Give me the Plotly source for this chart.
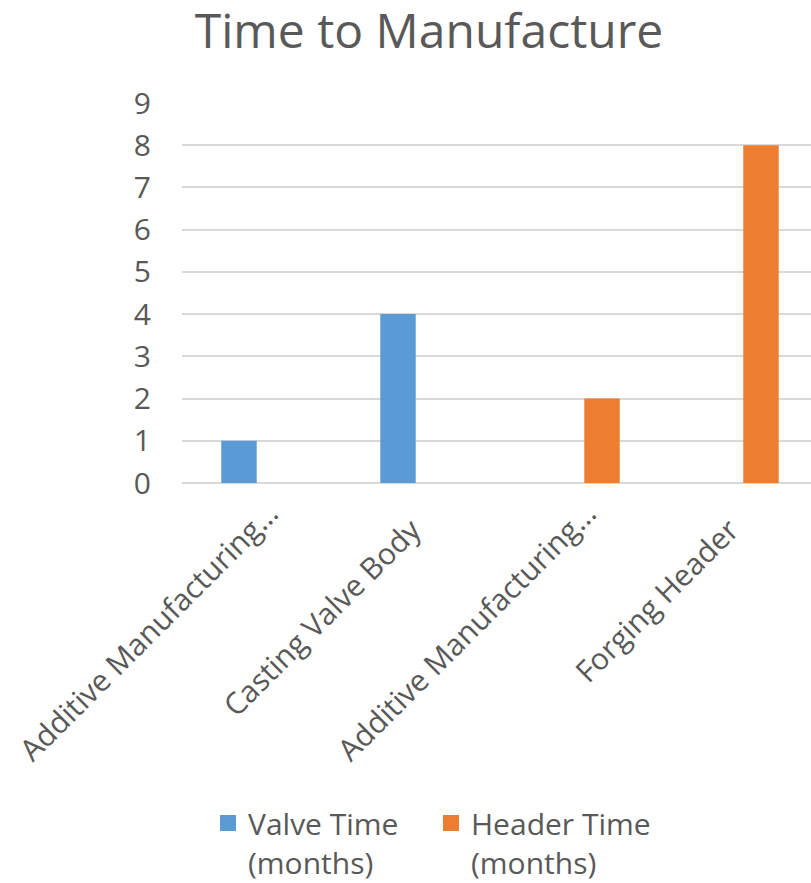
import plotly.graph_objects as go

# Chart data
categories = ["Additive Manufacturing…", "Casting Valve Body",
              "Additive Manufacturing…", "Forging Header"]
valve_months = [1, 4, None, None]
header_months = [None, None, 2, 8]
y_ticks = list(range(0, 10))
series_names = ["Valve Time<br>(months)", "Header Time<br>(months)"]
series_colors = ["#5B9BD5", "#ED7D31"]

TEXT = "#595959"
GRID = "#D9D9D9"
FONT = "'Open Sans', sans-serif"
FS = 30

positions = list(range(len(categories)))
bar_w = 0.223
gap_half = 0.1415

# full (untruncated) labels sit a little further from the axis end
tick_text = [c if c.endswith("…") else c + "\u00a0" * 3 for c in categories]

fig = go.Figure()
for vals, color, shift in [(valve_months, series_colors[0], -gap_half),
                           (header_months, series_colors[1], gap_half)]:
    fig.add_trace(go.Bar(
        x=positions, y=vals, showlegend=False,
        marker=dict(color=color, line=dict(width=0)),
        width=bar_w, offset=shift - bar_w / 2,
    ))

# legend keys with larger square swatches
for name, color in zip(series_names, series_colors):
    fig.add_trace(go.Scatter(
        x=[None], y=[None], mode="markers", name=name,
        marker=dict(symbol="square", size=20, color=color),
    ))

fig.update_layout(
    width=811, height=883,
    paper_bgcolor="white", plot_bgcolor="white",
    barmode="overlay",
    margin=dict(l=182, r=0, t=103, b=400),
    font=dict(family=FONT, color=TEXT, size=FS),
    title=dict(text="Time to Manufacture", x=429 / 811, xanchor="center",
               y=1 - 14 / 883, yanchor="top", yref="container",
               font=dict(size=48, color=TEXT, family=FONT)),
    showlegend=True,
    legend=dict(orientation="h", x=(208 - 182) / 629, xanchor="left",
                y=1 - 797 / 883, yanchor="top", yref="container",
                valign="top", font=dict(size=FS, color=TEXT),
                itemsizing="trace", entrywidth=178, tracegroupgap=0),
    xaxis=dict(range=[-0.5, 3.456], tickmode="array", tickvals=positions,
               ticktext=tick_text, tickangle=-45, showgrid=False,
               showline=False, zeroline=False, ticks="",
               ticklabelstandoff=6, ticklabelshift=8,
               ticklabeloverflow="allow", automargin=False,
               tickfont=dict(size=FS, color=TEXT)),
    yaxis=dict(range=[0, 9], tickmode="array", tickvals=y_ticks,
               showgrid=True, gridcolor=GRID, gridwidth=1.5,
               zeroline=True, zerolinecolor=GRID, zerolinewidth=1.5,
               showline=False, ticks="", ticklabelstandoff=30,
               automargin=False,
               tickfont=dict(size=FS, color=TEXT)),
)

fig.write_html("out.html")
